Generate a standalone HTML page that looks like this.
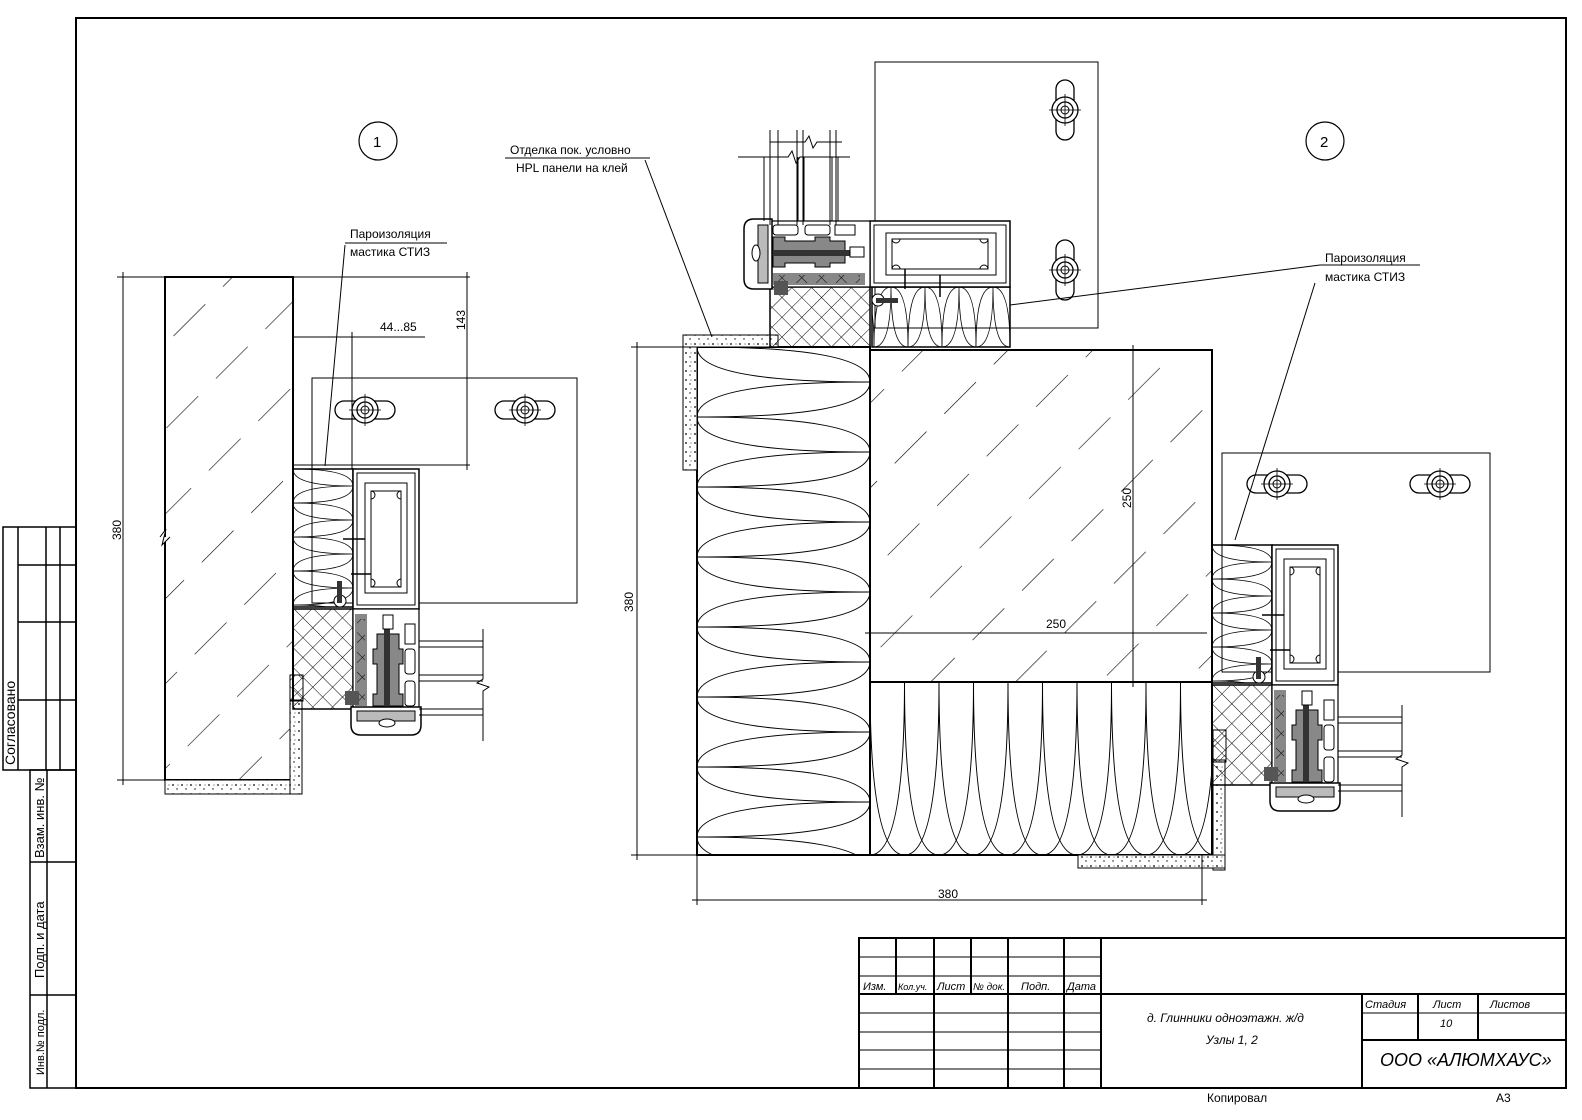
<!DOCTYPE html>
<html><head><meta charset="utf-8"><style>
html,body{margin:0;padding:0;background:#fff}
svg{display:block}
text{font-family:"Liberation Sans","DejaVu Sans",sans-serif;fill:#000}
</style></head><body>
<svg width="1582" height="1120" viewBox="0 0 1582 1120" xmlns="http://www.w3.org/2000/svg">
<defs>
<pattern id="hatch" patternUnits="userSpaceOnUse" width="60" height="70" patternTransform="rotate(45)">
<line x1="0" y1="0" x2="0" y2="70" stroke="#000" stroke-width="1.2" stroke-dasharray="45 25"/>
</pattern>
<pattern id="cross" patternUnits="userSpaceOnUse" width="14" height="14" patternTransform="rotate(45)">
<line x1="0" y1="0" x2="14" y2="0" stroke="#000" stroke-width="1"/>
<line x1="0" y1="0" x2="0" y2="14" stroke="#000" stroke-width="1"/>
</pattern>
<pattern id="stip" patternUnits="userSpaceOnUse" width="9" height="9">
<rect width="9" height="9" fill="#fff"/>
<circle cx="2" cy="2" r="0.9" fill="#000"/><circle cx="6" cy="6" r="0.7" fill="#000"/><circle cx="7" cy="2" r="0.5" fill="#000"/>
</pattern>
<pattern id="loopV" patternUnits="userSpaceOnUse" width="173" height="70" x="697" y="347">
<path d="M0,0 Q173,0 173,35 Q173,70 0,70" fill="none" stroke="#000" stroke-width="1"/>
<path d="M173,35 Q0,35 0,70" fill="none" stroke="#000" stroke-width="1"/>
<path d="M173,35 Q0,35 0,0" fill="none" stroke="#000" stroke-width="1"/>
</pattern>
<pattern id="loopH" patternUnits="userSpaceOnUse" width="69" height="173" x="870" y="682">
<path d="M0,0 Q0,173 34.5,173 Q69,173 69,0" fill="none" stroke="#000" stroke-width="1"/>
<path d="M34.5,0 Q34.5,173 0,173 M34.5,0 Q34.5,173 69,173" fill="none" stroke="#000" stroke-width="1"/>
</pattern>
<pattern id="loopS" patternUnits="userSpaceOnUse" width="60" height="34">
<path d="M0,0 Q60,0 60,17 Q60,34 0,34 M60,17 Q0,17 0,34 M60,17 Q0,17 0,0" fill="none" stroke="#000" stroke-width="0.8"/>
</pattern>
<g id="bolt">
<rect x="-30" y="-9" width="60" height="18" rx="9" fill="#fff" stroke="#000" stroke-width="1.3"/>
<circle r="13" fill="#fff" stroke="#000" stroke-width="1.3"/>
<circle r="8" fill="none" stroke="#000" stroke-width="1.3"/>
<circle r="4" fill="none" stroke="#000" stroke-width="1"/>
<line x1="-16" y1="0" x2="16" y2="0" stroke="#000" stroke-width="0.8"/>
<line x1="0" y1="-16" x2="0" y2="16" stroke="#000" stroke-width="0.8"/>
</g>
<g id="unit">
<rect x="0" y="0" width="60" height="138" fill="url(#loopS)" stroke="#000" stroke-width="1.5"/>
<rect x="60" y="0" width="66" height="140" fill="#fff" stroke="#000" stroke-width="1.5"/>
<rect x="64" y="4" width="58" height="132" fill="none" stroke="#000" stroke-width="1"/>
<rect x="72" y="14" width="42" height="110" fill="none" stroke="#000" stroke-width="1"/>
<rect x="78" y="22" width="30" height="96" fill="none" stroke="#000" stroke-width="1"/>
<path d="M78,22 a4,4 0 1 1 0,8 M108,22 a4,4 0 1 0 0,8 M78,110 a4,4 0 1 1 0,8 M108,110 a4,4 0 1 0 0,8" fill="none" stroke="#000"/>
<rect x="0" y="140" width="60" height="100" fill="url(#cross)" stroke="#000" stroke-width="1.5"/>
<rect x="60" y="140" width="66" height="100" fill="#fff" stroke="#000" stroke-width="1.2"/>
<rect x="62" y="145" width="12" height="92" fill="#888"/>
<rect x="64" y="150" width="8" height="82" fill="url(#cross)"/>
<path d="M84,165 h22 v15 h4 v15 h-4 v30 h4 v12 h-30 v-12 h4 v-30 h-4 v-15 h4z" fill="#888" stroke="#000"/>
<rect x="91" y="148" width="6" height="100" fill="#333"/>
<rect x="90" y="146" width="10" height="14" fill="#fff" stroke="#000"/>
<rect x="52" y="222" width="14" height="14" fill="#555"/>
<rect x="112" y="155" width="10" height="20" fill="#fff" stroke="#000"/>
<rect x="112" y="180" width="10" height="25" rx="3" fill="#fff" stroke="#000"/>
<rect x="112" y="212" width="10" height="25" rx="3" fill="#fff" stroke="#000"/>
<path d="M58,238 h70 v18 q0,10 -10,10 h-50 q-10,0 -10,-10z" fill="#fff" stroke="#000" stroke-width="1.5"/>
<path d="M64,242 h58 v10 h-58z" fill="#bbb" stroke="#000"/>
<ellipse cx="94" cy="254" rx="8" ry="4" fill="#fff" stroke="#000"/>
<circle cx="47" cy="132" r="6" fill="#fff" stroke="#000"/>
<rect x="44" y="112" width="5" height="22" fill="#333"/>
<path d="M50,70 h22 M58,105 h20" stroke="#000" stroke-width="1.5"/>
<path d="M126,172 h64 M126,178 h64 M126,206 h64 M126,212 h64 M126,240 h64 M126,246 h64" stroke="#000" stroke-width="1"/>
<path d="M190,160 v50 l-6,4 l12,4 l-6,4 v50" fill="none" stroke="#000" stroke-width="1"/>
</g>
</defs>

<rect x="76" y="18" width="1490" height="1070" fill="none" stroke="#000" stroke-width="2"/>
<g stroke="#000" stroke-width="1.5" fill="none">
<rect x="3" y="527" width="73" height="243"/>
<line x1="18" y1="527" x2="18" y2="770"/>
<line x1="18" y1="565" x2="76" y2="565"/><line x1="18" y1="622" x2="76" y2="622"/><line x1="18" y1="700" x2="76" y2="700"/>
<line x1="46" y1="527" x2="46" y2="770"/><line x1="60" y1="527" x2="60" y2="770"/>
<rect x="30" y="770" width="46" height="318"/>
<line x1="47" y1="770" x2="47" y2="1088"/>
<line x1="30" y1="862" x2="76" y2="862"/><line x1="30" y1="995" x2="76" y2="995"/>
</g>
<text transform="translate(15,765) rotate(-90)" font-size="14">Согласовано</text>
<text transform="translate(44,858) rotate(-90)" font-size="13">Взам. инв. №</text>
<text transform="translate(44,978) rotate(-90)" font-size="13">Подп. и дата</text>
<text transform="translate(44,1075) rotate(-90)" font-size="11">Инв.№ подл.</text>

<g stroke="#000" stroke-width="2" fill="none">
<rect x="859" y="938" width="707" height="150"/>
<line x1="1101" y1="938" x2="1101" y2="1088"/>
<line x1="859" y1="994" x2="1101" y2="994"/>
<line x1="1101" y1="994" x2="1566" y2="994"/>
<line x1="1362" y1="994" x2="1362" y2="1088"/>
<line x1="1362" y1="1040" x2="1566" y2="1040"/>
<line x1="1418" y1="994" x2="1418" y2="1040"/>
<line x1="1478" y1="994" x2="1478" y2="1040"/>
<line x1="896" y1="938" x2="896" y2="994"/>
<line x1="934" y1="938" x2="934" y2="1088"/>
<line x1="971" y1="938" x2="971" y2="994"/>
<line x1="1008" y1="938" x2="1008" y2="1088"/>
<line x1="1064" y1="938" x2="1064" y2="1088"/>
</g>
<g stroke="#000" stroke-width="1" fill="none">
<line x1="859" y1="957" x2="1101" y2="957"/><line x1="859" y1="976" x2="1101" y2="976"/>
<line x1="859" y1="1013" x2="1101" y2="1013"/><line x1="859" y1="1032" x2="1101" y2="1032"/>
<line x1="859" y1="1050" x2="1101" y2="1050"/><line x1="859" y1="1069" x2="1101" y2="1069"/>
<line x1="1362" y1="1013" x2="1566" y2="1013"/>
</g>
<g font-size="11" font-style="italic">
<text x="863" y="990">Изм.</text><text x="898" y="990" font-size="9">Кол.уч.</text><text x="937" y="990">Лист</text><text x="973" y="990" font-size="10">№ док.</text><text x="1021" y="990">Подп.</text><text x="1067" y="990">Дата</text>
<text x="1365" y="1008">Стадия</text><text x="1433" y="1008">Лист</text><text x="1490" y="1008">Листов</text>
<text x="1440" y="1027">10</text>
<text x="1147" y="1022" font-size="12">д. Глинники одноэтажн. ж/д</text>
<text x="1206" y="1044" font-size="12">Узлы 1, 2</text>
<text x="1380" y="1066" font-size="18">ООО «АЛЮМХАУС»</text>
</g>
<text x="1207" y="1102" font-size="12">Копировал</text>
<text x="1496" y="1102" font-size="12">А3</text>

<!-- DETAIL 1 -->
<circle cx="378" cy="141" r="19" fill="none" stroke="#000" stroke-width="1.2"/>
<text x="373" y="147" font-size="15">1</text>
<rect x="165" y="277" width="128" height="503" fill="url(#hatch)" stroke="#000" stroke-width="2"/>
<path d="M160,537 l6,-8 l-4,16 l8,-8" fill="#fff" stroke="#000"/>
<rect x="165" y="780" width="136" height="14" fill="url(#stip)" stroke="#000" stroke-width="1"/>
<rect x="290" y="700" width="12" height="94" fill="url(#stip)" stroke="#000" stroke-width="1"/>
<rect x="290" y="675" width="13" height="26" fill="url(#cross)" stroke="#000"/>
<rect x="312" y="378" width="265" height="225" fill="none" stroke="#000" stroke-width="1"/>
<use href="#bolt" x="365" y="410"/>
<use href="#bolt" x="525" y="410"/>
<use href="#unit" transform="translate(293,469)"/>
<g stroke="#000" stroke-width="1" fill="none">
<line x1="117" y1="277" x2="165" y2="277"/><line x1="117" y1="780" x2="165" y2="780"/>
<line x1="123" y1="272" x2="123" y2="785"/>
<line x1="293" y1="277" x2="470" y2="277"/><line x1="293" y1="465" x2="470" y2="465"/>
<line x1="467" y1="272" x2="467" y2="470"/>
<line x1="293" y1="337" x2="425" y2="337"/><line x1="352" y1="332" x2="352" y2="469"/>
<path d="M345,245 L325,466"/><line x1="345" y1="243" x2="447" y2="243"/>
</g>
<text transform="translate(121,540) rotate(-90)" font-size="12">380</text>
<text transform="translate(465,330) rotate(-90)" font-size="12">143</text>
<text x="380" y="331" font-size="12">44...85</text>
<text x="350" y="238" font-size="12">Пароизоляция</text>
<text x="350" y="256" font-size="12">мастика СТИЗ</text>

<!-- DETAIL 2 -->
<circle cx="1325" cy="141" r="19" fill="none" stroke="#000" stroke-width="1.2"/>
<text x="1320" y="147" font-size="15">2</text>
<rect x="875" y="62" width="223" height="266" fill="none" stroke="#000" stroke-width="1"/>
<use href="#bolt" transform="translate(1065,110) rotate(90)"/>
<use href="#bolt" transform="translate(1065,270) rotate(90)"/>
<rect x="1222" y="453" width="268" height="219" fill="none" stroke="#000" stroke-width="1"/>
<use href="#bolt" x="1277" y="484"/>
<use href="#bolt" x="1440" y="484"/>
<rect x="870" y="350" width="342" height="332" fill="url(#hatch)" stroke="#000" stroke-width="2"/>
<rect x="870" y="682" width="342" height="173" fill="url(#loopH)" stroke="#000" stroke-width="2"/>
<rect x="697" y="347" width="173" height="508" fill="url(#loopV)" stroke="#000" stroke-width="2"/>
<path d="M683,335 h95 v12 h-81 v123 h-14z" fill="url(#stip)" stroke="#000"/>
<rect x="1213" y="760" width="12" height="110" fill="url(#stip)" stroke="#000"/>
<rect x="1078" y="855" width="147" height="13" fill="url(#stip)" stroke="#000"/>
<rect x="1213" y="730" width="13" height="32" fill="url(#cross)" stroke="#000"/>
<use href="#unit" transform="matrix(0,-1,-1,0,1010,347)"/>
<use href="#unit" transform="translate(1212,545)"/>
<g stroke="#000" stroke-width="1" fill="none">
<path d="M770,130 v95 M778,130 v95 M797,130 v95 M803,130 v95 M830,130 v95 M836,130 v95"/>
<path d="M770,142 h35 l4,-6 l4,12 l4,-6 h25"/>
<line x1="631" y1="347" x2="697" y2="347"/><line x1="631" y1="855" x2="697" y2="855"/>
<line x1="637" y1="342" x2="637" y2="860"/>
<line x1="1133" y1="345" x2="1133" y2="687"/>
<line x1="865" y1="633" x2="1207" y2="633"/>
<line x1="697" y1="855" x2="697" y2="905"/><line x1="1202" y1="855" x2="1202" y2="905"/>
<line x1="692" y1="900" x2="1207" y2="900"/>
<line x1="645" y1="160" x2="712" y2="337"/><line x1="505" y1="158" x2="650" y2="158"/>
<line x1="1010" y1="305" x2="1320" y2="265"/><line x1="1235" y1="540" x2="1315" y2="283"/>
<line x1="1320" y1="265" x2="1420" y2="265"/>
</g>
<text transform="translate(633,612) rotate(-90)" font-size="12">380</text>
<text transform="translate(1131,508) rotate(-90)" font-size="12">250</text>
<text x="1046" y="628" font-size="12">250</text>
<text x="938" y="898" font-size="12">380</text>
<text x="510" y="154" font-size="12">Отделка пок. условно</text>
<text x="516" y="172" font-size="12">HPL панели на клей</text>
<text x="1325" y="262" font-size="12">Пароизоляция</text>
<text x="1325" y="281" font-size="12">мастика СТИЗ</text>
</svg>
</body></html>
